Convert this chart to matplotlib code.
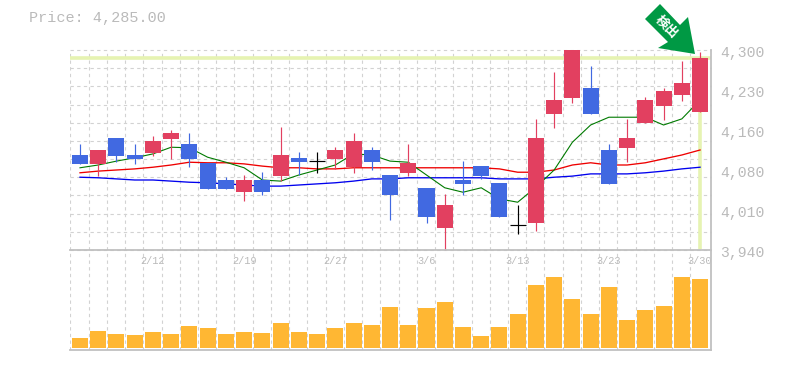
import matplotlib
matplotlib.use("Agg")
import matplotlib.pyplot as plt
from matplotlib.patches import Polygon
from matplotlib.transforms import blended_transform_factory

W, H = 785, 370
GRID = "#d2d2d2"
FRAME = "#c0c0c0"
TXT = "#bababa"
RED = "#e24060"
BLUE = "#4169e1"
HL = "#e6f3b2"
MONO = "Liberation Mono"

opens  = [4111,4095,4142,4111,4115,4140,4131,4097,4066,4044,4066,4073,4106,4100,4104,4089,4120,4075,4079,4052,3980,4066,4091,4061,3985,3989,4185,4214,4232,4120,4124,4169,4199,4219,4188]
closes = [4095,4120,4109,4104,4136,4151,4104,4050,4050,4066,4044,4111,4098,4100,4120,4136,4098,4039,4097,3999,4021,4059,4073,3999,3985,4142,4210,4300,4185,4059,4142,4210,4226,4241,4285]
highs  = [4131,4120,4142,4131,4145,4156,4151,4097,4071,4075,4080,4161,4116,4116,4125,4151,4125,4075,4131,4052,4041,4100,4091,4061,4021,4176,4260,4300,4271,4131,4176,4215,4232,4280,4296]
lows   = [4095,4073,4098,4095,4109,4104,4089,4050,4050,4028,4039,4064,4075,4079,4086,4079,4084,3994,4073,3989,3940,4039,4068,3999,3969,3974,4160,4205,4185,4059,4098,4169,4174,4208,4188]
ma_short = [4088,4093,4100,4106,4113,4125,4124,4107,4098,4088,4066,4064,4075,4084,4093,4113,4111,4100,4098,4075,4052,4044,4052,4032,4026,4053,4084,4134,4165,4179,4179,4179,4165,4176,4210]
ma_mid   = [4079,4082,4084,4086,4089,4093,4098,4097,4097,4095,4091,4088,4088,4086,4086,4088,4088,4088,4088,4088,4088,4088,4088,4086,4080,4080,4084,4093,4097,4093,4093,4097,4104,4111,4120]
ma_long  = [4071,4070,4068,4066,4066,4064,4062,4061,4059,4057,4055,4055,4057,4059,4061,4064,4068,4068,4070,4070,4070,4070,4070,4068,4068,4068,4071,4073,4077,4077,4077,4079,4082,4086,4089]
volumes = [10,17,14,13,16,14,22,20,14,16,15,25,16,14,20,25,23,41,23,40,46,21,12,21,34,63,71,49,34,61,28,38,42,71,69]
date_labels = {4:"2/12",9:"2/19",14:"2/27",19:"3/6",24:"3/13",29:"3/23",34:"3/30"}
price_ticks = [4300,4228,4156,4084,4012,3940]
price_tick_labels = ["4,300","4,230","4,160","4,080","4,010","3,940"]
last_price = 4285
title = "Price: 4,285.00"
badge = "検出"

fig = plt.figure(figsize=(W/100, H/100), dpi=100, facecolor="white")
def axpx(l, t, r, b):
    return fig.add_axes([l/W, 1-b/H, (r-l)/W, (b-t)/H])

ax = axpx(70, 50, 711, 250)
av = axpx(70, 250, 711, 350)
xl = (-0.548, 34.6)
n = len(opens)
xs = list(range(n))
grid_x = [i-0.53 for i in range(n)]

for a in (ax, av):
    a.set_xlim(*xl)
    a.set_xticks([])
    a.set_yticks([])
    a.patch.set_alpha(0)
    for s in a.spines.values():
        s.set_visible(False)
    for gx in grid_x:
        a.axvline(gx, color=GRID, lw=0.8, ls=(0, (3, 3)), zorder=1)

ax.set_ylim(3940, 4300)
for i in range(12):
    ax.axhline(3940+i*360/11, color=GRID, lw=0.8, ls=(0, (3, 3)), zorder=1, clip_on=False)

# highlights
ax.axhline(last_price, color=HL, lw=2.6, zorder=2)
ax.plot([xs[-1], xs[-1]], [last_price, 3942], color=HL, lw=2.6, zorder=2, solid_capstyle="butt")

# moving averages
ax.plot(xs, ma_long, color="#0000ee", lw=0.95, zorder=3)
ax.plot(xs, ma_mid, color="#ee0000", lw=0.95, zorder=3)
ax.plot(xs, ma_short, color="#007a00", lw=0.8, zorder=3)

# candles
for i in xs:
    o, c, h, l = opens[i], closes[i], highs[i], lows[i]
    if o == c:
        ax.plot([i, i], [l, h], color="black", lw=0.85, zorder=5, solid_capstyle="butt")
        ax.plot([i-0.44, i+0.44], [o, o], color="black", lw=0.85, zorder=5, solid_capstyle="butt")
        continue
    col = RED if c > o else BLUE
    ax.plot([i, i], [l, h], color=col, lw=0.85, zorder=4, solid_capstyle="butt", clip_on=False)
    ax.bar(i, abs(c-o), bottom=min(o, c), width=0.88, color=col, zorder=5, linewidth=0)

# volumes
av.set_ylim(-2, 98)
av.bar(xs, volumes, width=0.88, color="#ffb733", zorder=3, linewidth=0)

# frame
av.axhline(98, color=FRAME, lw=1.3, zorder=6, clip_on=False)
av.axhline(-2, color=FRAME, lw=1.3, zorder=6, clip_on=False)
fig.add_artist(plt.Line2D([710.7/W, 710.7/W], [1-50/H, 1-350/H], color=FRAME, lw=1.3))

# date labels
for i, t in date_labels.items():
    av.text(i, 98-11, t, ha="center", va="center", family=MONO, fontsize=7.4, color=TXT, zorder=7)

# price labels
lab_tr = blended_transform_factory(fig.transFigure, ax.transData)
for p, t in zip(price_ticks, price_tick_labels):
    ax.text(720/W, p - 3*1.8, t, transform=lab_tr, ha="left", va="center",
            family=MONO, fontsize=10.6, color=TXT, clip_on=False)

fig.text(29/W, 1-18/H, title, ha="left", va="center", family=MONO, fontsize=10.9, color=TXT)

# badge arrow
pts = [(660, 4), (645, 19), (668, 42), (658, 48), (695, 54), (688, 17), (680, 25)]
fig.add_artist(Polygon([(x/W, 1-y/H) for x, y in pts], closed=True, transform=fig.transFigure,
                       facecolor="#009944", edgecolor="none", zorder=8))
fig.text(667/W, 1-27/H, badge, rotation=-45, ha="center", va="center", color="white",
         family=["Noto Sans CJK JP", "DejaVu Sans"], fontsize=9.5, fontweight="bold", zorder=9)

fig.savefig("out.png", dpi=100)
